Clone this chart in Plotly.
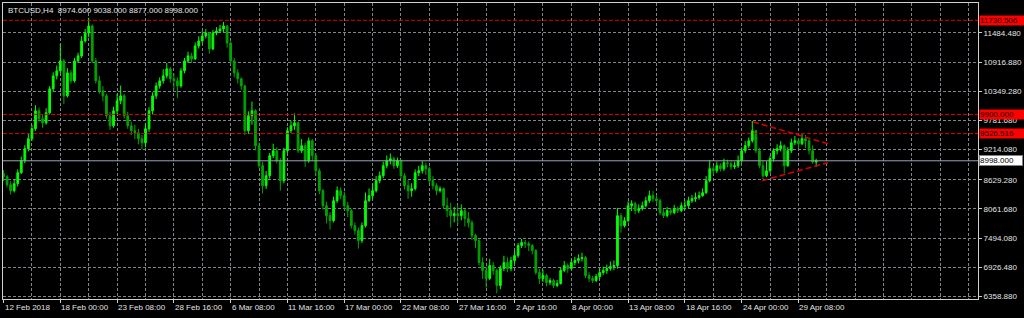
import plotly.graph_objects as go

# ---------------- data ----------------
symbol = "BTCUSD,H4"
first_open = 8750.0
close = [
    8689, 8533, 8417, 8553, 8766, 9000, 9233, 9427,
    9622, 9970, 9815, 9737, 9931, 10397, 10650, 10747,
    10941, 10261, 10708, 10553, 10941, 11038, 11329, 11484,
    11620, 10941, 10553, 10358, 10261, 9873, 9679, 9970,
    10164, 10261, 9873, 9679, 9582, 9543, 9427, 9349,
    9621, 9970, 10261, 10455, 10553, 10650, 10786, 10592,
    10553, 10455, 10747, 10941, 11038, 10980, 11232, 11329,
    11426, 11484, 11174, 11484, 11523, 11562, 11620, 11290,
    10941, 10708, 10592, 10455, 9582, 9873, 9970, 9291,
    8902, 8514, 8708, 9097, 9194, 9000, 8611, 9194,
    9582, 9679, 9737, 9194, 9291, 9000, 9388, 9097,
    8805, 8417, 8125, 7931, 7834, 8222, 8417, 8320,
    8125, 8028, 7737, 7640, 7446, 7737, 8222, 8320,
    8417, 8611, 8708, 8902, 9000, 9039, 8902, 9000,
    8708, 8514, 8417, 8456, 8766, 8805, 8902, 8844,
    8611, 8514, 8417, 8456, 8125, 8028, 7931, 7970,
    7931, 8028, 7873, 7795, 7543, 7446, 7019, 6864,
    6708, 6961, 6864, 6573, 6902, 7019, 6902, 7058,
    7155, 7349, 7407, 7388, 7349, 7252, 6825, 6708,
    6767, 6631, 6670, 6573, 6612, 6864, 6961, 6902,
    7019, 7058, 7097, 7116, 6767, 6708, 6670, 6747,
    6825, 6864, 6902, 6941, 6961, 7931, 7737, 7834,
    8125, 8164, 8028, 8067, 8125, 8222, 8320, 8261,
    8222, 7989, 7931, 8028, 7989, 8067, 8028, 8125,
    8125, 8222, 8261, 8281, 8320, 8378, 8611, 8844,
    8805, 8902, 8844, 8961, 8941, 8883, 8902, 9000,
    9194, 9291, 9388, 9582, 9194, 8902, 8708, 8805,
    9039, 9194, 9233, 9291, 8902, 9194, 9349, 9388,
    9330, 9427, 9388, 9194, 8974.6, 8998,
]
high = [
    8820, 8720, 8600, 8640, 8830, 9080, 9300, 9520,
    9700, 10080, 10030, 9900, 10020, 10450, 10720, 10850,
    11270, 10980, 10800, 10760, 11000, 11100, 11420, 11560,
    11780, 11650, 11000, 10650, 10450, 10300, 9950, 10050,
    10300, 10460, 10300, 9950, 9760, 9700, 9620, 9500,
    9720, 10040, 10330, 10520, 10620, 10780, 10900, 10820,
    10700, 10620, 10800, 11000, 11120, 11100, 11300, 11420,
    11520, 11560, 11500, 11540, 11600, 11640, 11700, 11640,
    11320, 11000, 10780, 10620, 10480, 9960, 10150, 10000,
    9350, 8980, 8800, 9150, 9330, 9260, 9050, 9250,
    9650, 9780, 9920, 9760, 9420, 9350, 9450, 9420,
    9150, 8850, 8450, 8200, 8000, 8300, 8500, 8480,
    8400, 8200, 8060, 7800, 7700, 7800, 8380, 8460,
    8560, 8700, 8790, 8980, 9100, 9140, 9080, 9060,
    9030, 8760, 8620, 8560, 8830, 8900, 8990, 8960,
    8880, 8700, 8560, 8500, 8480, 8280, 8180, 8100,
    8130, 8150, 8060, 8000, 7840, 7580, 7480, 7120,
    6940, 7090, 7030, 6900, 6960, 7150, 7120, 7130,
    7250, 7400, 7480, 7460, 7430, 7380, 7280, 6900,
    6880, 6800, 6720, 6700, 6680, 6920, 7050, 7000,
    7080, 7130, 7180, 7210, 7150, 6830, 6760, 6800,
    6900, 6940, 6980, 7040, 7060, 8080, 7980, 7900,
    8210, 8230, 8200, 8150, 8200, 8300, 8420, 8410,
    8330, 8260, 8060, 8100, 8070, 8140, 8110, 8190,
    8220, 8300, 8330, 8380, 8400, 8460, 8700, 9010,
    8900, 8980, 8950, 9040, 9020, 8990, 8980, 9100,
    9260, 9380, 9450, 9770, 9600, 9250, 9000, 8990,
    9100, 9240, 9320, 9380, 9320, 9260, 9430, 9480,
    9440, 9520, 9500, 9420, 9300, 9038,
]
low = [
    8600, 8480, 8340, 8380, 8500, 8740, 8950, 9180,
    9380, 9580, 9760, 9640, 9700, 9900, 10350, 10580,
    10700, 10100, 10230, 10500, 10520, 10900, 11000, 11300,
    11400, 10900, 10500, 10300, 10150, 9820, 9600, 9640,
    9900, 10100, 9820, 9620, 9500, 9420, 9320, 9220,
    9260, 9560, 9900, 10200, 10400, 10500, 10600, 10520,
    10380, 10220, 10420, 10700, 10900, 10900, 10960, 11180,
    11280, 11380, 11080, 11150, 11440, 11480, 11500, 11200,
    10880, 10620, 10500, 10380, 9500, 9520, 9700, 9200,
    8850, 8360, 8450, 8650, 9050, 8950, 8420, 8560,
    9150, 9540, 9600, 9150, 9150, 8880, 8960, 9000,
    8700, 8350, 8050, 7780, 7660, 7800, 8180, 8250,
    8050, 7900, 7680, 7560, 7290, 7400, 7700, 8200,
    8260, 8380, 8560, 8660, 8850, 8930, 8840, 8860,
    8650, 8440, 8260, 8300, 8420, 8700, 8750, 8720,
    8560, 8440, 8330, 8380, 8060, 7900, 7700, 7800,
    7760, 7840, 7720, 7700, 7460, 7300, 6960, 6700,
    6530, 6680, 6780, 6420, 6500, 6850, 6830, 6850,
    7000, 7110, 7300, 7300, 7240, 7180, 6780, 6600,
    6640, 6560, 6580, 6520, 6540, 6590, 6830, 6820,
    6880, 6960, 7000, 7040, 6720, 6640, 6620, 6640,
    6700, 6780, 6800, 6860, 6870, 6900, 7600, 7700,
    7800, 8020, 7960, 7980, 8030, 8090, 8180, 8200,
    8150, 7940, 7880, 7900, 7940, 7960, 7980, 8000,
    8040, 8080, 8180, 8200, 8240, 8300, 8350, 8580,
    8720, 8760, 8790, 8800, 8870, 8820, 8840, 8860,
    8960, 9150, 9240, 9350, 9150, 8850, 8640, 8680,
    8760, 8980, 9120, 9180, 8750, 8880, 9150, 9300,
    9240, 9300, 9250, 9120, 8940, 8877,
]

x_tick_bars = [0, 16, 32, 48, 64, 80, 96, 112, 128, 144, 160, 176, 192, 208, 224]
x_tick_labels = ["12 Feb 2018", "18 Feb 00:00", "23 Feb 08:00", "28 Feb 16:00",
                 "6 Mar 08:00", "11 Mar 16:00", "17 Mar 00:00", "22 Mar 08:00",
                 "27 Mar 16:00", "2 Apr 16:00", "8 Apr 00:00", "13 Apr 08:00",
                 "18 Apr 16:00", "24 Apr 00:00", "29 Apr 08:00"]
x_grid_bars = [8 * k for k in range(35)]
y_ticks = [6358.88, 6926.48, 7494.08, 8061.68, 8629.28, 9214.08,
           9781.68, 10349.28, 10916.88, 11484.48]
red_levels = [11730.506, 9900.000, 9526.516]
tri_upper_x = [211.2, 232.3]
tri_upper_y = [9757, 9330]
tri_lower_x = [213.8, 232.3]
tri_lower_y = [8611, 8961]

# ---------------- build ----------------
n = len(close)
bars = list(range(n))
opens = [first_open] + close[:-1]

fig = go.Figure()
fig.add_trace(go.Candlestick(
    x=bars, open=opens, high=high, low=low, close=close,
    increasing=dict(line=dict(color="#00ff00", width=1), fillcolor="#00ff00"),
    decreasing=dict(line=dict(color="#00a400", width=1), fillcolor="#00a400"),
    whiskerwidth=0, hoverinfo="skip", showlegend=False,
))

txt = "#e4e4e4"
font = dict(family="Liberation Sans, Arial", size=8, color=txt)
grid = "#7d858f"

shapes = []
for lv in red_levels:
    shapes.append(dict(type="line", xref="paper", x0=0, x1=1, yref="y", y0=lv, y1=lv,
                       line=dict(color="#e00000", width=1, dash="4px,2px"), layer="above"))
last_close = close[-1]
shapes.append(dict(type="line", xref="paper", x0=0, x1=1, yref="y", y0=last_close, y1=last_close,
                   line=dict(color="#9aa3b0", width=1), layer="above"))
for xs, ys in ((tri_upper_x, tri_upper_y), (tri_lower_x, tri_lower_y)):
    shapes.append(dict(type="line", xref="x", yref="y", x0=xs[0], x1=xs[1], y0=ys[0], y1=ys[1],
                       line=dict(color="#d40000", width=1.5, dash="6px,3px"), layer="above"))

annotations = []
annotations.append(dict(
    xref="paper", yref="paper", x=0, y=1, xanchor="left", yanchor="top", xshift=3, yshift=-1,
    text=f"{symbol}\u00a0\u00a0{opens[-1]:.3f} {high[-1]:.3f} {low[-1]:.3f} {close[-1]:.3f}",
    showarrow=False, font=font))
for b, lab in zip(x_tick_bars, x_tick_labels):
    annotations.append(dict(xref="x", yref="paper", x=b, y=0, xanchor="left", yanchor="top",
                            yshift=-2, xshift=-1, text=lab, showarrow=False, font=font))
for lv in red_levels:
    annotations.append(dict(xref="paper", yref="y", x=1, y=lv, xanchor="left", yanchor="middle",
                            xshift=1, text=f"{lv:.3f}", showarrow=False, bgcolor="#ff0000",
                            width=44, align="left", borderpad=0,
                            font=dict(family="Liberation Sans, Arial", size=8, color="#000000")))
annotations.append(dict(xref="paper", yref="y", x=1, y=last_close, xanchor="left", yanchor="middle",
                        xshift=1, text=f"{last_close:.3f}", showarrow=False, bgcolor="#ffffff",
                        bordercolor="#808080", borderwidth=1, width=42, align="left", borderpad=0,
                        font=dict(family="Liberation Sans, Arial", size=8, color="#000000")))

fig.update_layout(
    width=1024, height=318,
    margin=dict(l=3, r=42, t=2, b=19),
    paper_bgcolor="#000000", plot_bgcolor="#000000",
    showlegend=False,
    shapes=shapes, annotations=annotations,
    xaxis=dict(
        range=[-0.15, 274.6], rangeslider=dict(visible=False),
        tickmode="array", tickvals=x_tick_bars, ticktext=[""] * len(x_tick_bars),
        showticklabels=False, ticks="outside", ticklen=3, tickcolor="#d0d0d0",
        showgrid=False, zeroline=False,
        minor=dict(tickmode="array", tickvals=x_grid_bars, showgrid=True,
                   gridcolor=grid, griddash="3px,2px", gridwidth=1, ticks=""),
        showline=True, mirror=True, linecolor="#d0d0d0", linewidth=1, fixedrange=True,
    ),
    yaxis=dict(
        range=[6310, 12067], side="right",
        tickmode="array", tickvals=y_ticks, ticktext=[f"{v:.3f}" for v in y_ticks],
        tickfont=font, ticks="outside", ticklen=3, tickcolor="#d0d0d0",
        showgrid=True, gridcolor=grid, griddash="3px,2px", gridwidth=1, zeroline=False,
        showline=True, mirror=True, linecolor="#d0d0d0", linewidth=1, fixedrange=True,
    ),
)

fig.write_html("out.html", config={"displayModeBar": False})
